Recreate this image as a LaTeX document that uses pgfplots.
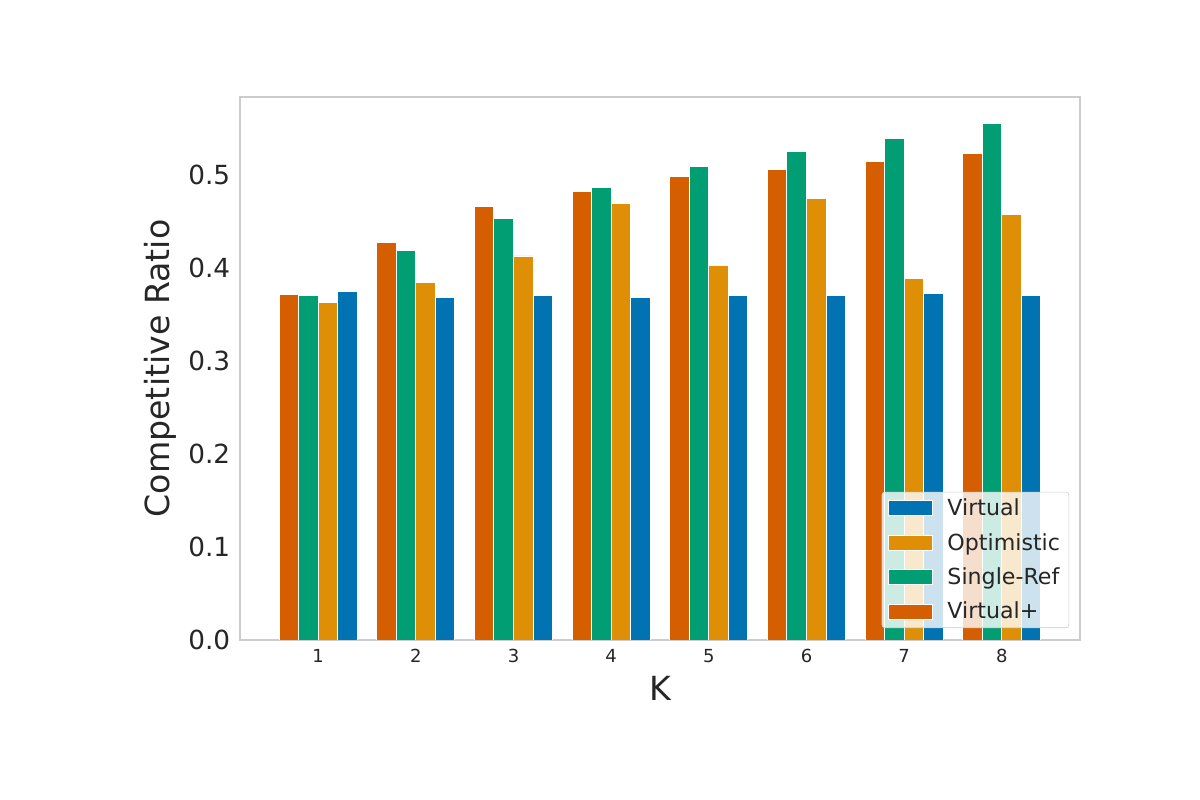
\documentclass[border=0pt]{standalone}
\usepackage{pgfplots}
\pgfplotsset{compat=1.18}
\usepackage{fontspec}
\setmainfont{DejaVu Sans}
\definecolor{cVp}{HTML}{D55E00}
\definecolor{cSR}{HTML}{029E73}
\definecolor{cOpt}{HTML}{DE8F05}
\definecolor{cV}{HTML}{0173B2}
\definecolor{txt}{HTML}{262626}
\definecolor{frame}{HTML}{CCCCCC}
\begin{document}
\begin{tikzpicture}
\path[use as bounding box] (0,0) rectangle (12in,8in);
\begin{axis}[
  at={(2.4in,1.6in)}, anchor=south west,
  scale only axis, width=8.4in, height=5.43in,
  xmin=0.2, xmax=8.8, ymin=0, ymax=0.584,
  xtick={1,2,3,4,5,6,7,8},
  ytick={0,0.1,0.2,0.3,0.4,0.5},
  major tick length=0pt,
  axis line style={frame, line width=0.8pt},
  /pgf/number format/assume math mode=true,
  yticklabel style={/pgf/number format/fixed,/pgf/number format/fixed zerofill,/pgf/number format/precision=1, font=\fontsize{19}{22}\selectfont, text=txt, xshift=-0.05in},
  xticklabel style={font=\fontsize{13}{15}\selectfont, text=txt, yshift=-0.04in},
  scaled y ticks=false,
  xlabel={K}, ylabel={Competitive Ratio},
  every axis x label/.style={at={(axis description cs:0.5,-0.09)}, anchor=center, font=\fontsize{24}{28}\selectfont, text=txt},
  every axis y label/.style={at={(axis description cs:-0.095,0.5)}, anchor=center, rotate=90, font=\fontsize{24}{28}\selectfont, text=txt},
  ybar=0pt, bar width=0.2,
  every axis plot/.append style={draw=white, line width=0.7pt},
  reverse legend,
  legend image code/.code={\draw[#1, sharp corners, fill opacity=1, draw opacity=1, line width=0.5pt] (0in,-0.075in) rectangle (0.44in,0.075in);},
  legend cell align=left,
  legend style={at={(axis description cs:0.987,0.022)}, anchor=south east,
    draw=frame, rounded corners=2pt, fill=white, fill opacity=0.8, text opacity=1,
    font=\fontsize{16}{19}\selectfont, text=txt,
    row sep=0.1in, inner xsep=0.06in, inner ysep=0.04in,
    /tikz/every odd column/.append style={column sep=0.12in}},
]
\addplot[fill=cVp, bar shift=-0.3] coordinates {(1,0.372) (2,0.428) (3,0.466) (4,0.482) (5,0.498) (6,0.506) (7,0.515) (8,0.523)};
\addlegendentry{Virtual+}
\addplot[fill=cSR, bar shift=-0.1] coordinates {(1,0.370) (2,0.419) (3,0.453) (4,0.487) (5,0.509) (6,0.525) (7,0.539) (8,0.556)};
\addlegendentry{Single-Ref}
\addplot[fill=cOpt, bar shift=0.1] coordinates {(1,0.363) (2,0.384) (3,0.413) (4,0.469) (5,0.403) (6,0.475) (7,0.389) (8,0.458)};
\addlegendentry{Optimistic}
\addplot[fill=cV, bar shift=0.3] coordinates {(1,0.375) (2,0.368) (3,0.370) (4,0.368) (5,0.370) (6,0.371) (7,0.373) (8,0.370)};
\addlegendentry{Virtual}
\end{axis}
\end{tikzpicture}
\end{document}
